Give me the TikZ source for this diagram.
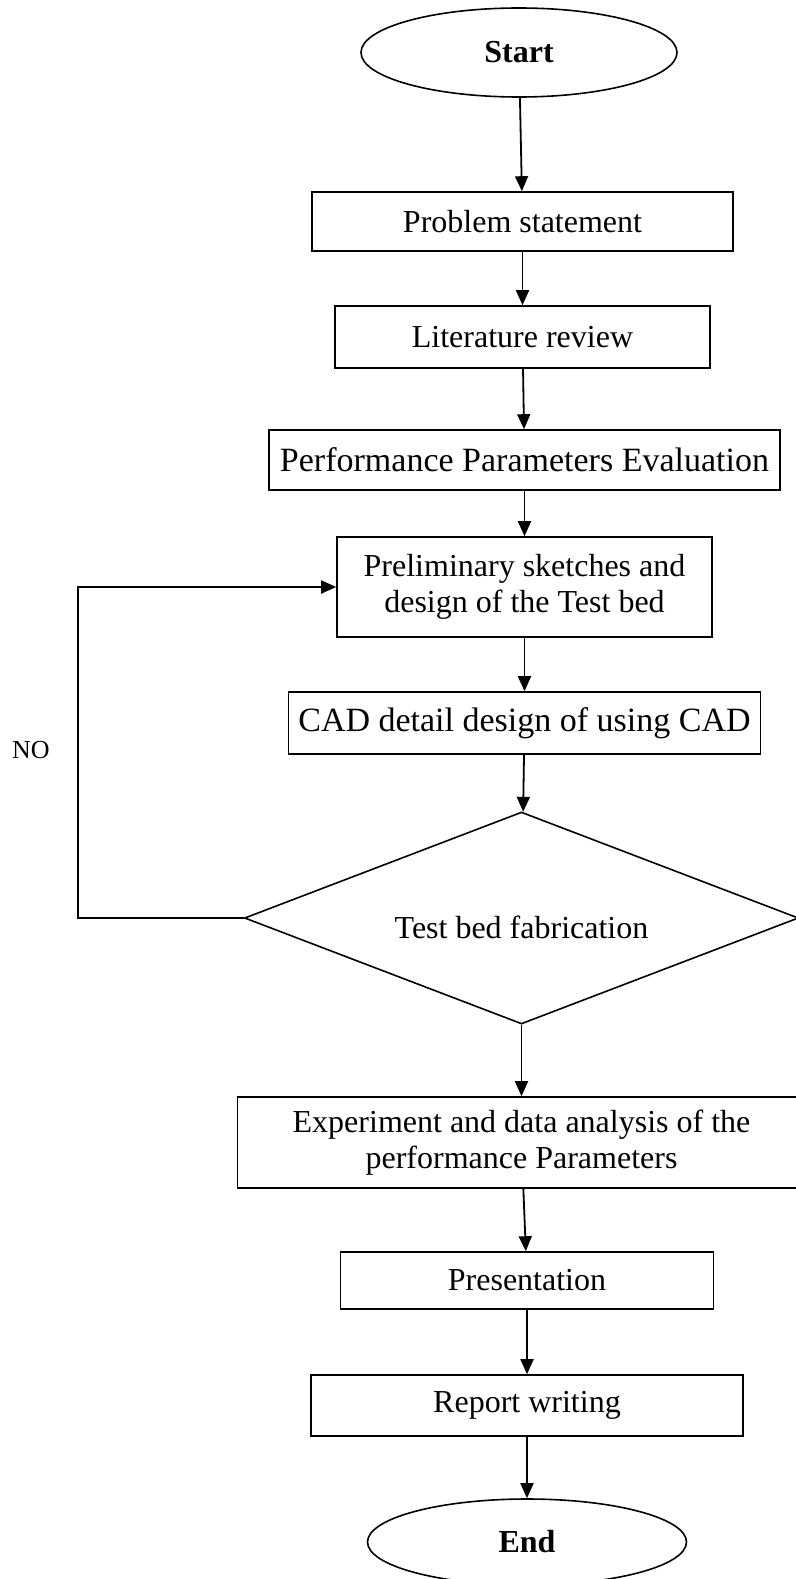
\documentclass[tikz,border=0pt]{standalone}
\usepackage{fontspec}
\setmainfont{Liberation Serif}
\usetikzlibrary{shapes.geometric, positioning, arrows.meta}

\begin{document}
\begin{tikzpicture}[x=1pt, y=-1pt, on grid,
  every node/.style={font=\fontsize{32}{36}\selectfont},
  big/.style={font=\fontsize{34}{38}\selectfont},
  box/.style={draw, line width=1.6pt, inner sep=0pt, align=center},
  term/.style={ellipse, draw, line width=1.6pt, inner sep=0pt, font=\fontsize{32}{36}\selectfont\bfseries},
  decide/.style={diamond, draw, line width=1.6pt, inner sep=0pt},
  arr/.style={-{Triangle[length=15pt, width=13pt]}, line width=1.8pt}]
  \useasboundingbox (0,0) rectangle (795,1579);

  \node[term, minimum width=316pt, minimum height=89pt] (start) at (519,52.5) {Start};
  \node[box, minimum width=421pt, minimum height=59pt] (prob) [below=169pt of start, xshift=3.5pt] {Problem statement};
  \node[box, minimum width=375pt, minimum height=62pt] (lit) [below=115.5pt of prob] {Literature review};
  \node[box, big, minimum width=511pt, minimum height=60pt] (perf) [below=123pt of lit, xshift=2pt] {Performance Parameters Evaluation};
  \node[box, minimum width=375pt, minimum height=100pt] (prel) [below=127pt of perf] {Preliminary sketches and\\design of the Test bed};
  \node[box, big, minimum width=472pt, minimum height=62pt] (cad) [below=136pt of prel] {CAD detail design of using CAD};
  \node[decide, minimum width=554pt, minimum height=212pt,
    label={[yshift=-9pt]center:Test bed fabrication}] (dia) [below=195pt of cad, xshift=-3pt] {};
  \node[box, minimum width=568pt, minimum height=91pt] (exp) [below=224.5pt of dia] {Experiment and data analysis of the\\performance Parameters};
  \node[box, minimum width=373pt, minimum height=57pt] (pres) [below=138pt of exp, xshift=5.5pt] {Presentation};
  \node[box, minimum width=432pt, minimum height=61pt] (rep) [below=125pt of pres] {Report writing};
  \node[term, minimum width=319pt, minimum height=86pt] (end) [below=136.5pt of rep] {End};

  \node[font=\fontsize{26}{30}\selectfont] (no) at (31,750) {NO};
  \coordinate (back) at (78,918);

  \draw[arr] (start) -- (prob);
  \draw[arr] (prob) -- (lit);
  \draw[arr] (lit) -- (perf);
  \draw[arr] (perf) -- (prel);
  \draw[arr] (prel) -- (cad);
  \draw[arr] (cad) -- (dia);
  \draw[arr] (dia) -- (exp);
  \draw[arr] (exp) -- (pres);
  \draw[arr] (pres) -- (rep);
  \draw[arr] (rep) -- (end);
  \draw[arr] (dia.west) -- (back) |- (prel.west);
\end{tikzpicture}
\end{document}
